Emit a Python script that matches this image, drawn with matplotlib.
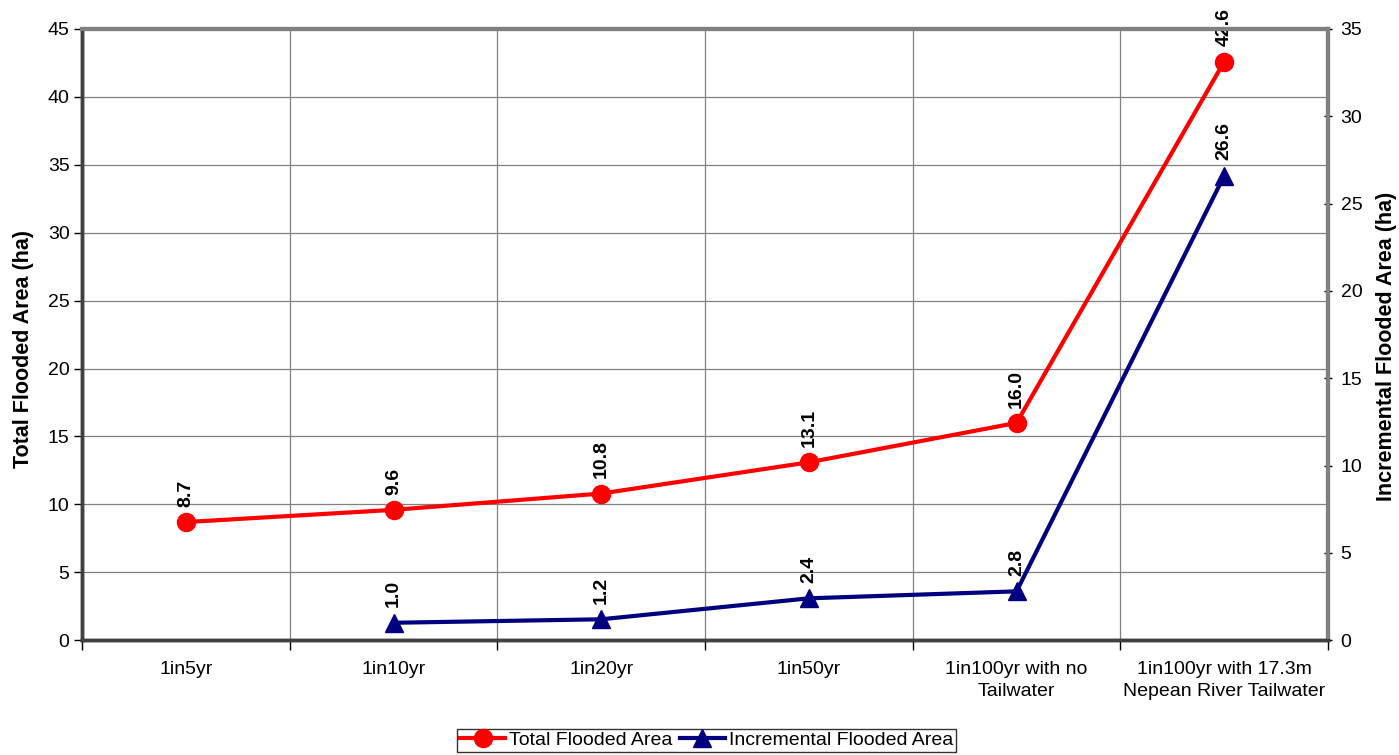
"""Total and incremental flooded area by design event"""
import matplotlib.pyplot as plt
from matplotlib.ticker import FixedLocator, NullFormatter

plt.rcParams['font.family'] = ['Liberation Sans', 'DejaVu Sans']

categories = ['1in5yr', '1in10yr', '1in20yr', '1in50yr',
              '1in100yr with no\nTailwater',
              '1in100yr with 17.3m\nNepean River Tailwater']
total_area = [8.7, 9.6, 10.8, 13.1, 16.0, 42.6]
incr_cats = [1, 2, 3, 4, 5]
incr_area = [1.0, 1.2, 2.4, 2.8, 26.6]

fig = plt.figure(figsize=(13.99, 7.55), dpi=100)
ax = fig.add_axes([0.0586, 0.152, 0.8907, 0.8096])
ax2 = ax.twinx()

x = list(range(len(categories)))
l1, = ax.plot(x, total_area, color='#ff0000', lw=3, marker='o', ms=13,
              label='Total Flooded Area', zorder=3)
l2, = ax2.plot(incr_cats, incr_area, color='#000080', lw=3, marker='^', ms=13,
               label='Incremental Flooded Area', zorder=3)

for xi, v in zip(x, total_area):
    ax.annotate(f'{v:.1f}', (xi, v), xytext=(0, 11), textcoords='offset points',
                rotation=90, ha='center', va='bottom', fontsize=14, fontweight='bold')
for xi, v in zip(incr_cats, incr_area):
    ax2.annotate(f'{v:.1f}', (xi, v), xytext=(0, 11), textcoords='offset points',
                 rotation=90, ha='center', va='bottom', fontsize=14, fontweight='bold')

ax.set_xlim(-0.5, len(categories) - 0.5)
ax.set_ylim(0, 45)
ax.set_yticks(range(0, 46, 5))
ax2.set_ylim(0, 35)
ax2.set_yticks(range(0, 36, 5))

# category boundaries as major ticks, labels at centers
ax.xaxis.set_major_locator(FixedLocator([i - 0.5 for i in range(len(categories) + 1)]))
ax.xaxis.set_major_formatter(NullFormatter())
ax.xaxis.set_minor_locator(FixedLocator(x))
ax.set_xticklabels(categories, minor=True, fontsize=14, linespacing=1.4)
ax.tick_params(axis='x', which='minor', length=0, pad=15)
ax.tick_params(axis='x', which='major', length=7, direction='out', width=1)
ax.tick_params(axis='y', labelsize=14, length=6, width=1, pad=3)
ax2.tick_params(axis='y', labelsize=14, length=6, width=1, direction='inout', pad=6)

ax.grid(True, which='major', color='#808080', lw=0.9)
ax.set_axisbelow(True)

for a in (ax, ax2):
    a.spines['left'].set_linewidth(2.5)
    a.spines['left'].set_color('#404040')
    a.spines['bottom'].set_linewidth(2.5)
    a.spines['bottom'].set_color('#404040')
    a.spines['top'].set_linewidth(3)
    a.spines['top'].set_color('#808080')
    a.spines['right'].set_linewidth(3)
    a.spines['right'].set_color('#808080')

ax.set_ylabel('Total Flooded Area (ha)', fontsize=15.5, fontweight='bold')
ax2.set_ylabel('Incremental Flooded Area (ha)', fontsize=15.5, fontweight='bold')
ax.yaxis.set_label_coords(-0.0385, 0.477)
ax2.yaxis.set_label_coords(1.0385, 0.48)

ax.set_zorder(ax2.get_zorder() - 1)
ax.patch.set_visible(True)
ax2.patch.set_visible(False)

leg = fig.legend(handles=[l1, l2], loc='lower center', bbox_to_anchor=(0.505, 0.0),
                 ncol=2, fontsize=14, frameon=True, fancybox=False, edgecolor='black',
                 handlelength=2.3, handletextpad=0.2, columnspacing=0.4,
                 borderpad=0.15, borderaxespad=0.15)
leg.get_frame().set_linewidth(1)

fig.savefig('out.png', dpi=100)
